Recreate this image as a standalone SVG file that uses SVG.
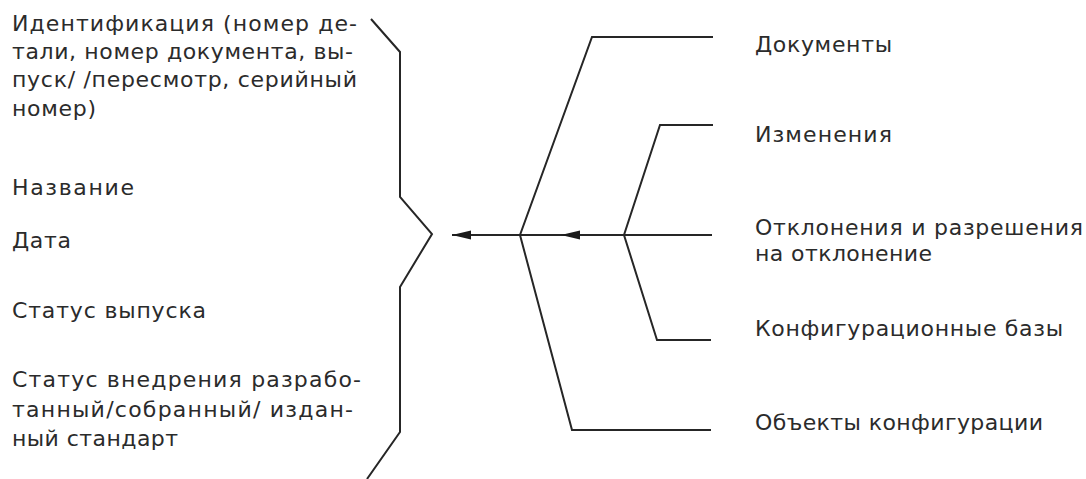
<svg xmlns="http://www.w3.org/2000/svg" width="1086" height="479" viewBox="0 0 1086 479">
<style>
  text { font-family: "DejaVu Sans", "Liberation Sans", sans-serif; font-size: 22px; fill: #2b2b2b; }
  .ln { fill: none; stroke: #262626; stroke-width: 2; stroke-linejoin: miter; }
</style>
<defs>
  <marker id="ah" markerUnits="userSpaceOnUse" markerWidth="19" markerHeight="10" refX="19" refY="5" orient="auto">
    <path d="M19,5 L0,0.5 L0,9.5 z" fill="#1a1a1a"/>
  </marker>
</defs>
<rect width="1086" height="479" fill="#ffffff"/>

<g id="left-items">
  <text x="12" y="31" textLength="345" lengthAdjust="spacing">Идентификация (номер де-</text>
  <text x="12" y="59" textLength="341" lengthAdjust="spacing">тали, номер документа, вы-</text>
  <text x="12" y="87" textLength="345" lengthAdjust="spacing">пуск/ /пересмотр, серийный</text>
  <text x="12" y="116" textLength="84" lengthAdjust="spacing">номер)</text>
  <text x="12" y="195" textLength="122" lengthAdjust="spacing">Название</text>
  <text x="12" y="248" textLength="59" lengthAdjust="spacing">Дата</text>
  <text x="12" y="318" textLength="194" lengthAdjust="spacing">Статус выпуска</text>
  <text x="12" y="387" textLength="349" lengthAdjust="spacing">Статус внедрения разрабо-</text>
  <text x="12" y="417" textLength="341" lengthAdjust="spacing">танный/собранный/ издан-</text>
  <text x="12" y="446" textLength="166" lengthAdjust="spacing">ный стандарт</text>
</g>

<g id="n-documents"><text x="755" y="52" textLength="137" lengthAdjust="spacing">Документы</text></g>
<g id="n-changes"><text x="755" y="142" textLength="137" lengthAdjust="spacing">Изменения</text></g>
<g id="n-deviations">
  <text x="755" y="235" textLength="328" lengthAdjust="spacing">Отклонения и разрешения</text>
  <text x="755" y="261" textLength="177" lengthAdjust="spacing">на отклонение</text>
</g>
<g id="n-baselines"><text x="755" y="336" textLength="308" lengthAdjust="spacing">Конфигурационные базы</text></g>
<g id="n-objects"><text x="755" y="430" textLength="288" lengthAdjust="spacing">Объекты конфигурации</text></g>

<g id="connectors">
  <path class="ln" d="M371,19 L400,52 L400,197 L432,234 L400,287 L400,432 L367,479"/>
  <path class="ln" d="M712,235 L452,235" marker-end="url(#ah)"/>
  <path class="ln" d="M624,235 L561,235" marker-end="url(#ah)"/>
  <path class="ln" d="M713,37 L592,37 L520,235 L572,430 L711,430"/>
  <path class="ln" d="M713,125 L660,125 L624,235 L657,340 L711,340"/>
</g>
</svg>
